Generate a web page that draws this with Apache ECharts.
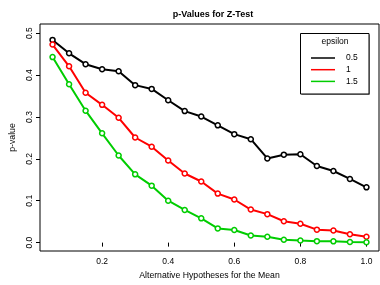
<!doctype html>
<html>
<head>
<meta charset="utf-8">
<title>p-Values for Z-Test</title>
<script src="https://cdn.jsdelivr.net/npm/echarts@6/dist/echarts.min.js"></script>
<style>
  html, body { margin: 0; padding: 0; background: #fff; }
  #main { width: 380px; height: 285px; }
</style>
</head>
<body>
<div id="main"></div>
<script>
// alternative means
var means = [0.05, 0.10, 0.15, 0.20, 0.25, 0.30, 0.35, 0.40, 0.45, 0.50,
             0.55, 0.60, 0.65, 0.70, 0.75, 0.80, 0.85, 0.90, 0.95, 1.00];
var eps05 = [0.484, 0.452, 0.426, 0.414, 0.409, 0.376, 0.367, 0.340, 0.314, 0.301,
             0.280, 0.259, 0.247, 0.201, 0.210, 0.211, 0.183, 0.171, 0.152, 0.132];
var eps1  = [0.473, 0.421, 0.358, 0.329, 0.298, 0.251, 0.229, 0.196, 0.165, 0.146,
             0.117, 0.103, 0.079, 0.068, 0.051, 0.045, 0.031, 0.029, 0.020, 0.014];
var eps15 = [0.443, 0.378, 0.315, 0.261, 0.208, 0.163, 0.136, 0.100, 0.078, 0.058,
             0.034, 0.030, 0.017, 0.014, 0.007, 0.005, 0.0035, 0.003, 0.0015, 0.001];
var seriesNames = ['0.5', '1', '1.5'];
var seriesColors = ['#000000', '#ff0000', '#00cd00'];
var xTicks = [0.2, 0.4, 0.6, 0.8, 1.0];
var yTicks = [0.0, 0.1, 0.2, 0.3, 0.4, 0.5];

function pairs(ys) {
    var out = [];
    for (var i = 0; i < means.length; i++) out.push([means[i], ys[i]]);
    return out;
}

var font = 'Liberation Sans, Arial, Helvetica, sans-serif';
var chart = echarts.init(document.getElementById('main'));

var allSeries = [eps05, eps1, eps15].map(function (ys, k) {
    return {
        name: seriesNames[k],
        type: 'line',
        data: pairs(ys),
        symbol: 'circle',
        symbolSize: 5,
        showAllSymbol: true,
        lineStyle: { color: seriesColors[k], width: 2 },
        itemStyle: { color: '#fff', borderColor: seriesColors[k], borderWidth: 1.5 },
        emphasis: { disabled: true },
        animation: false,
        z: 2 + k
    };
});

var legendData = seriesNames.map(function (n, k) {
    return { name: n, itemStyle: { color: seriesColors[k], borderWidth: 0 } };
});

chart.setOption({
    animation: false,
    title: {
        text: 'p-Values for Z-Test',
        left: 208, top: 5, textAlign: 'center',
        textStyle: { fontFamily: font, fontSize: 9, fontWeight: 'bold', color: '#000' }
    },
    grid: {
        left: 38, right: 1, top: 24, bottom: 28,
        show: true, borderColor: '#000', borderWidth: 1, backgroundColor: 'transparent'
    },
    xAxis: {
        type: 'value', min: 0.012, max: 1.038,
        name: 'Alternative Hypotheses for the Mean',
        nameLocation: 'middle', nameGap: 20,
        nameTextStyle: { fontFamily: font, fontSize: 8.7, color: '#000' },
        axisLine: { show: false },
        axisTick: { show: true, length: 4, lineStyle: { color: '#000' }, customValues: xTicks },
        axisLabel: {
            fontFamily: font, fontSize: 8.5, color: '#000', margin: 6,
            customValues: xTicks,
            formatter: function (v) { return v.toFixed(1); }
        },
        splitLine: { show: false }
    },
    yAxis: {
        type: 'value', min: -0.02, max: 0.522,
        name: 'p-value',
        nameLocation: 'middle', nameGap: 23,
        nameTextStyle: { fontFamily: font, fontSize: 8.7, color: '#000' },
        axisLine: { show: false },
        axisTick: { show: true, length: 4, lineStyle: { color: '#000' }, customValues: yTicks },
        axisLabel: {
            fontFamily: font, fontSize: 8.5, color: '#000', margin: 6, rotate: 90,
            customValues: yTicks,
            formatter: function (v) { return v.toFixed(1); }
        },
        splitLine: { show: false }
    },
    graphic: [
        { type: 'rect', z: 3, shape: { x: 301.5, y: 34.5, width: 68.5, height: 60.5 },
          style: { fill: '#999', stroke: null } },
        { type: 'rect', z: 3, shape: { x: 300.5, y: 33.5, width: 68.5, height: 60.5 },
          style: { fill: '#fff', stroke: '#000', lineWidth: 1 } },
        { type: 'text', z: 4, x: 335, y: 42,
          style: { text: 'epsilon', fill: '#000', font: '8.5px ' + font, textAlign: 'center', textVerticalAlign: 'middle' } }
    ],
    legend: {
        z: 5,
        orient: 'vertical',
        left: 311, top: 53, padding: 0,
        icon: 'rect', itemWidth: 24, itemHeight: 1.5, itemGap: 1.7,
        data: legendData,
        textStyle: { fontFamily: font, fontSize: 8.5, color: '#000', lineHeight: 10, padding: [0, 0, 0, 6] },
        selectedMode: false
    },
    series: allSeries
});
</script>
</body>
</html>
